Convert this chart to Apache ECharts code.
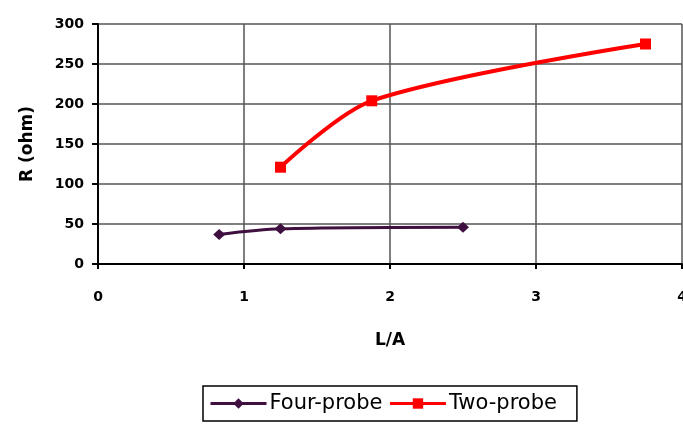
<!DOCTYPE html>
<html>
<head>
<meta charset="utf-8">
<script src="https://cdn.jsdelivr.net/npm/echarts@6/dist/echarts.min.js"></script>
<style>
  html, body { margin: 0; padding: 0; background: #fff; }
  #chart { width: 683px; height: 429px; }
</style>
</head>
<body>
<div id="chart"></div>
<script>
// values
const fourX = [0.83, 1.25, 2.5];
const fourY = [37, 44, 46];
const twoX = [1.25, 1.875, 3.75];
const twoY = [121, 204, 275];

const xTicks = [0, 1, 2, 3, 4];
const yTicks = [0, 50, 100, 150, 200, 250, 300];

function pairs(xs, ys) {
  return xs.map((x, i) => [x, ys[i]]);
}

var myChart = echarts.init(document.getElementById("chart"));

const labelFont = {
  color: "#000",
  fontFamily: "DejaVu Sans",
  fontWeight: "bold",
  fontSize: 14,
};

var option = {
  animation: false,
  backgroundColor: "#fff",
  grid: {
    left: 98,
    right: 1,
    top: 24,
    bottom: 165,
    outerBoundsMode: "none",
    containLabel: false,
  },
  xAxis: {
    type: "value",
    min: xTicks[0],
    max: xTicks[xTicks.length - 1],
    interval: 1,
    name: "L/A",
    nameLocation: "middle",
    nameGap: 68,
    nameTextStyle: { ...labelFont, fontSize: 17 },
    axisLine: { show: true, lineStyle: { color: "#000", width: 2 } },
    axisTick: { show: true, length: 5, lineStyle: { color: "#000", width: 2 } },
    axisLabel: { ...labelFont, margin: 26 },
    splitLine: { show: true, lineStyle: { color: "#555", width: 1.5 } },
  },
  yAxis: {
    type: "value",
    min: yTicks[0],
    max: yTicks[yTicks.length - 1],
    interval: 50,
    name: "R (ohm)",
    nameLocation: "middle",
    nameGap: 62,
    nameTextStyle: { ...labelFont, fontSize: 17 },
    axisLine: { show: true, lineStyle: { color: "#000", width: 2 } },
    axisTick: { show: true, length: 6, lineStyle: { color: "#000", width: 2 } },
    axisLabel: { ...labelFont, margin: 14 },
    splitLine: { show: true, lineStyle: { color: "#555", width: 1.5 } },
  },
  legend: {
    left: 203,
    top: 386,
    padding: [7, 20, 7, 6],
    borderColor: "#000",
    borderWidth: 1.5,
    itemWidth: 56,
    itemHeight: 13,
    itemGap: 6,
    lineStyle: { width: 3 },
    textStyle: {
      color: "#000",
      fontFamily: "DejaVu Sans",
      fontSize: 21,
      padding: [0, 0, 0, -2],
    },
    data: ["Four-probe", "Two-probe"],
  },
  series: [
    {
      name: "Four-probe",
      type: "line",
      smooth: 0.3,
      data: pairs(fourX, fourY),
      symbol: "diamond",
      symbolSize: [12, 11],
      color: "#3f0f3f",
      lineStyle: { width: 3, color: "#3f0f3f" },
      itemStyle: { color: "#3f0f3f" },
    },
    {
      name: "Two-probe",
      type: "line",
      smooth: 0.3,
      data: pairs(twoX, twoY),
      symbol: "rect",
      symbolSize: 11,
      color: "#ff0000",
      lineStyle: { width: 4, color: "#ff0000" },
      itemStyle: { color: "#ff0000" },
    },
  ],
};

myChart.setOption(option);
</script>
</body>
</html>
